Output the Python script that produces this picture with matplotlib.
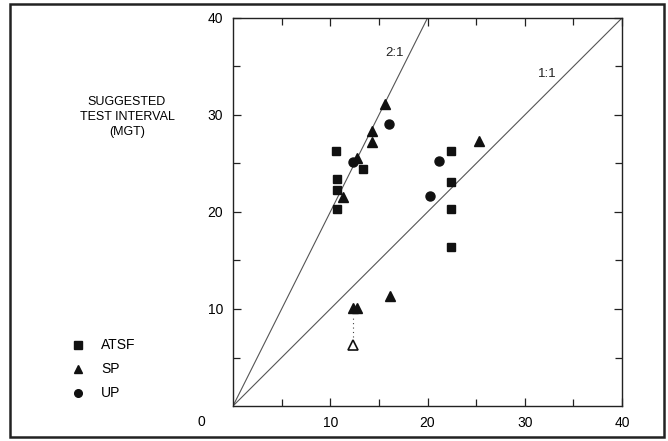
import numpy as np
import matplotlib.pyplot as plt
from matplotlib.patches import Rectangle

# =============================
#  Data
# =============================
atsf_x = [10.6, 10.7, 10.7, 10.7, 13.4, 22.4, 22.4, 22.4, 22.4]
atsf_y = [26.3, 23.4, 22.3, 20.3, 24.4, 26.3, 23.1, 20.3, 16.4]

sp_x = [15.6, 14.3, 14.3, 12.8, 11.3, 25.3, 12.3, 12.8, 16.1]
sp_y = [31.1, 28.3, 27.2, 25.6, 21.5, 27.3, 10.1, 10.1, 11.3]

up_x = [16.0, 12.3, 21.2, 20.3]
up_y = [29.1, 25.2, 25.3, 21.6]

# open triangle (projected value), joined to the filled one above by dots
open_x = [12.3]
open_y = [6.3]

ratio_lines = [("2:1", 2.0, 16.6, 36.4), ("1:1", 1.0, 32.3, 34.2)]
tick_labels = [10, 20, 30, 40]
legend_names = ["ATSF", "SP", "UP"]
legend_markers = ["s", "^", "o"]

plt.rcParams['font.family'] = ['Liberation Sans', 'DejaVu Sans']

fig = plt.figure(figsize=(6.68, 4.41), dpi=100)
ax = fig.add_axes([233/668, 1 - 406/441, 389/668, 388/441])
ax.set_xlim(0, 40)
ax.set_ylim(0, 40)

# outer frame round the whole figure
fig.patches.append(Rectangle((10/668, 4/441), 654/668, 433/441,
                             transform=fig.transFigure, fill=False,
                             lw=1.8, ec="#222222"))

# ---- reference lines ----
for name, slope, tx, ty in ratio_lines:
    xe = 40.0 / slope
    ax.plot([0, xe], [0, 40], color="#555555", lw=0.8, zorder=1)
    ax.text(tx, ty, name, fontsize=9.5, ha="center", va="center",
            color="#222222")

# dotted link from the open triangle up to the filled one
ax.plot([12.3, 12.3], [7.1, 9.2], color="#444444", lw=0.8,
        linestyle=(0, (1, 3)), zorder=1)

# ---- points ----
ax.plot(atsf_x, atsf_y, "s", color="#111111", ms=6, zorder=3)
ax.plot(sp_x, sp_y, "^", color="#111111", ms=7, zorder=3)
ax.plot(up_x, up_y, "o", color="#111111", ms=6.5, zorder=3)
ax.plot(open_x, open_y, "^", mfc="white", mec="#111111", mew=1.2,
        ms=7.5, zorder=3)

# ---- axes / ticks ----
ax.set_xticks(tick_labels)
ax.set_yticks(tick_labels)
ax.set_xticks([5, 15, 25, 35], minor=True)
ax.set_yticks([5, 15, 25, 35], minor=True)
ax.set_xticklabels([str(t) for t in tick_labels])
ax.set_yticklabels([str(t) for t in tick_labels])
ax.tick_params(which="both", direction="in", top=True, right=True,
               width=0.9, color="#222222")
ax.tick_params(which="major", length=6, labelsize=10, pad=7)
ax.tick_params(which="minor", length=5)
for s in ax.spines.values():
    s.set_linewidth(1.0)
    s.set_color("#222222")

# shared zero at the corner
ax.text(-3.3, -1.6, "0", fontsize=10, ha="center", va="center")

# y-axis title, set off to the left as in the original
fig.text(127/668, 1 - 117/441, "SUGGESTED\nTEST INTERVAL\n(MGT)",
         fontsize=9, ha="center", va="center", linespacing=1.3)

# ---- legend ----
for i, (nm, mk) in enumerate(zip(legend_names, legend_markers)):
    yy = 1 - (345 + i * 24) / 441
    fig.add_artist(plt.Line2D([78/668], [yy], marker=mk, color="#111111",
                              ms=5.5, transform=fig.transFigure))
    fig.text(101/668, yy, nm, fontsize=10, ha="left", va="center")

fig.savefig("out.png", dpi=100)
